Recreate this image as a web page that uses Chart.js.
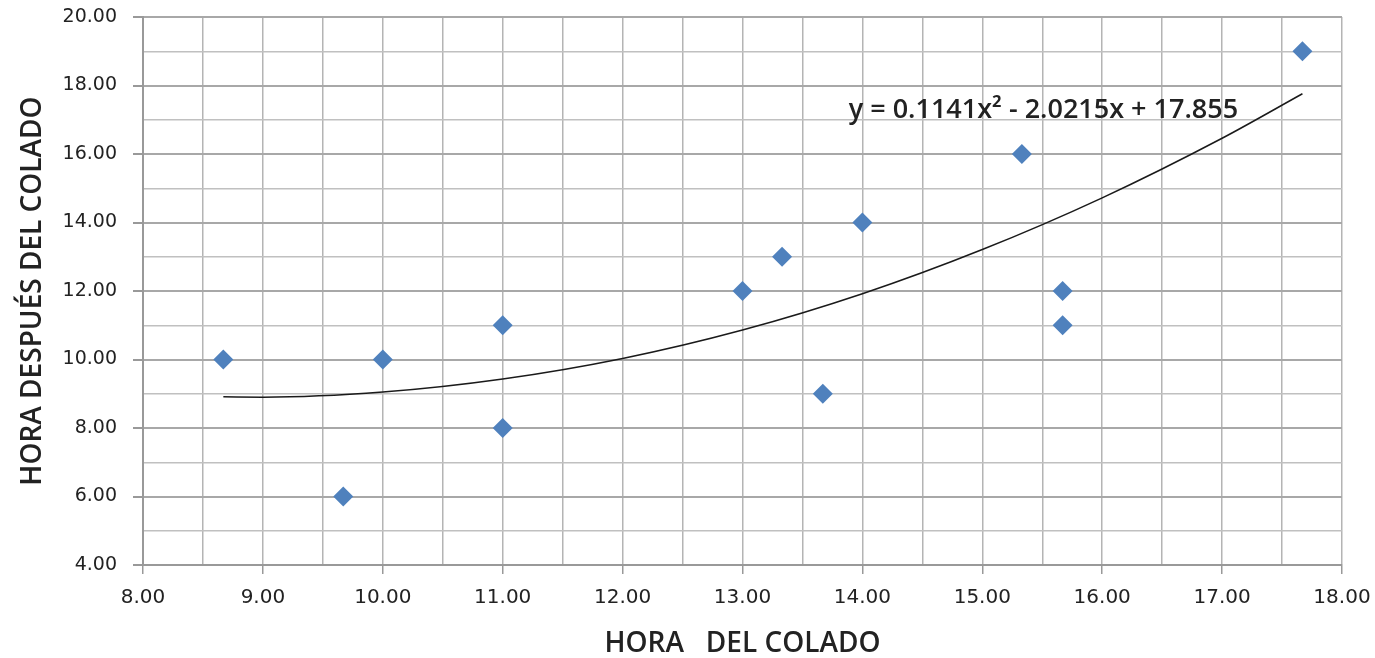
<!DOCTYPE html>
<html>
<head>
<meta charset="utf-8">
<script src="https://cdn.jsdelivr.net/npm/chart.js@4/dist/chart.umd.min.js"></script>
<style>
  html, body { margin: 0; padding: 0; background: #fff; }
  #wrap { width: 1375px; height: 658px; }
</style>
</head>
<body>
<div id="wrap"><canvas id="chart"></canvas></div>
<script>
// measured points (hora del colado, hora despues del colado)
var horaColado   = [8.67, 9.67, 10.00, 11.00, 11.00, 13.00, 13.33, 13.67, 14.00, 15.33, 15.67, 15.67, 17.67];
var horaDespues  = [10.00, 6.00, 10.00, 11.00, 8.00, 12.00, 13.00, 9.00, 14.00, 16.00, 12.00, 11.00, 19.00];

// trend curve
var trendX = [8.67, 9.00, 10.00, 11.00, 12.00, 13.00, 14.00, 15.00, 16.00, 17.00, 17.67];
var trendY = [8.91, 8.90, 9.05, 9.43, 10.03, 10.86, 11.92, 13.21, 14.72, 16.46, 17.76];

var equationText = "y = 0.1141x\u00B2 - 2.0215x + 17.855";

var xTitle = "HORA   DEL COLADO";
var yTitle = "HORA DESPU\u00C9S DEL COLADO";

var pts = horaColado.map(function(x, i) { return {x: x, y: horaDespues[i]}; });
var trend = trendX.map(function(x, i) { return {x: x, y: trendY[i]}; });

var equationPlugin = {
	id: 'equation',
	afterDatasetsDraw: function(chart) {
		var ctx = chart.ctx;
		var xs = chart.scales.x, ys = chart.scales.y;
		ctx.save();
		ctx.font = '600 27px "Open Sans", sans-serif';
		ctx.fillStyle = '#222';
		ctx.textAlign = 'center';
		ctx.textBaseline = 'middle';
		ctx.fillText(equationText, xs.getPixelForValue(15.51), ys.getPixelForValue(17.28));
		ctx.restore();
	}
};

var titleFont = { family: '"Open Sans", sans-serif', size: 28, weight: '600', lineHeight: 1.0 };

new Chart(document.getElementById('chart'), {
	type: 'scatter',
	data: {
		datasets: [{
			data: pts,
			pointStyle: 'rectRot',
			pointRadius: 10,
			pointHoverRadius: 10,
			backgroundColor: '#4f81bd',
			borderColor: '#4f81bd',
			borderWidth: 0,
			order: 1
		}, {
			type: 'line',
			data: trend,
			borderColor: '#1a1a1a',
			borderWidth: 1.5,
			pointRadius: 0,
			cubicInterpolationMode: 'monotone',
			fill: false,
			order: 2
		}]
	},
	options: {
		responsive: true,
		maintainAspectRatio: false,
		animation: false,
		layout: { padding: { top: 17, right: 33, left: 0, bottom: 0 } },
		plugins: { legend: { display: false }, tooltip: { enabled: false } },
		scales: {
			x: {
				type: 'linear',
				min: 8, max: 18,
				ticks: {
					stepSize: 0.5,
					autoSkip: false,
					maxRotation: 0,
					color: '#222',
					font: { family: 'DejaVu Sans', size: 20 },
					padding: 12,
					callback: function(v) { return Number.isInteger(v) ? v.toFixed(2) : ''; }
				},
				grid: {
					color: '#b4b4b4',
					lineWidth: 1.5,
					tickLength: 9,
					tickColor: function(c) { return Number.isInteger(c.tick.value) ? '#999' : 'rgba(0,0,0,0)'; }
				},
				border: { color: '#999', width: 2 },
				title: {
					display: true,
					text: xTitle,
					color: '#222',
					font: titleFont,
					padding: { top: 0, bottom: 0 }
				},
				afterFit: function(s) { s.height = 93; s.paddingRight = 0; s.paddingLeft = 0; }
			},
			y: {
				min: 4, max: 20,
				ticks: {
					stepSize: 1,
					autoSkip: false,
					color: '#222',
					font: { family: 'DejaVu Sans', size: 19 },
					padding: 16,
					callback: function(v) { return v % 2 === 0 ? v.toFixed(2) : ''; }
				},
				grid: {
					color: function(c) { return c.tick && c.tick.value % 2 === 0 ? '#a8a8a8' : '#c0c0c0'; },
					lineWidth: function(c) { return c.tick && c.tick.value % 2 === 0 ? 2 : 1.5; },
					tickLength: 10,
					tickColor: function(c) { return c.tick.value % 2 === 0 ? '#999' : 'rgba(0,0,0,0)'; }
				},
				border: { color: '#999', width: 2 },
				title: {
					display: true,
					text: yTitle,
					color: '#222',
					font: titleFont,
					padding: { top: 19, bottom: 0 }
				},
				afterFit: function(s) { s.width = 143; s.paddingTop = 0; s.paddingBottom = 0; }
			}
		}
	},
	plugins: [equationPlugin]
});
</script>
</body>
</html>
